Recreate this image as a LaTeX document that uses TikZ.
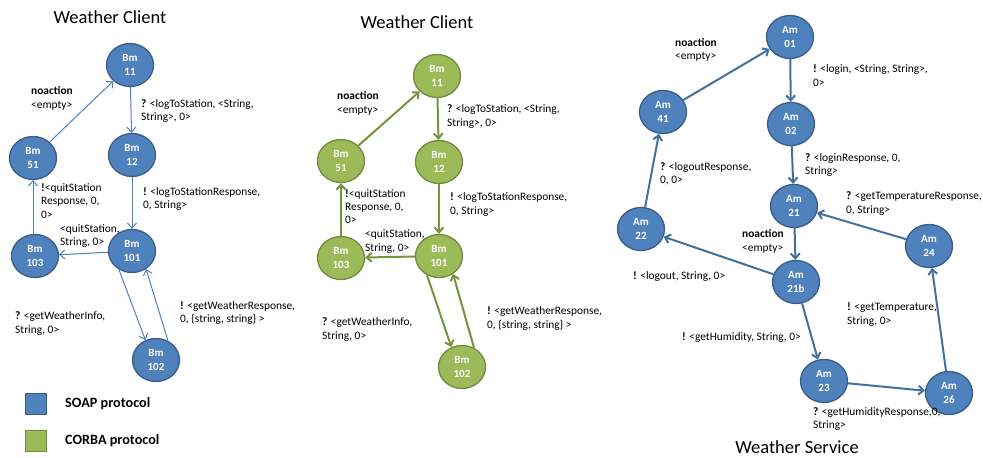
\documentclass[tikz,border=0pt]{standalone}
\usepackage{fontspec}
\setmainfont{Carlito}
\usetikzlibrary{arrows.meta,shapes.geometric}
\definecolor{bfill}{HTML}{4F81BD}
\definecolor{bdraw}{HTML}{385D8A}
\definecolor{gfill}{HTML}{9BBB59}
\definecolor{gdraw}{HTML}{71893F}
\definecolor{gline}{HTML}{77933C}
\definecolor{bline}{HTML}{4F81BD}
\definecolor{bline2}{HTML}{41719C}
\begin{document}
\begin{tikzpicture}[x=1pt,y=-1pt,
 st/.style={ellipse, minimum width=47pt, minimum height=43pt, inner sep=0pt, align=center, text=white, font=\fontsize{11}{13.5}\selectfont\bfseries, line width=1.3pt},
 bst/.style={st, fill=bfill, draw=bdraw},
 gst/.style={st, fill=gfill, draw=gdraw},
 lbl/.style={anchor=west, align=left, inner sep=0pt, font=\fontsize{11.4}{13.2}\selectfont},
 ttl/.style={font=\fontsize{18.5}{20}\selectfont, inner sep=0pt},
 leg/.style={anchor=west, inner sep=0pt, font=\fontsize{14.2}{16}\selectfont\bfseries},
 tip/.style={-{Straight Barb[length=5pt,width=9pt]}},
 ebl/.style={tip, draw=bline, line width=1pt},
 egr/.style={tip, draw=gline, line width=2pt},
 ebr/.style={tip, draw=bline2, line width=2pt},
]
\useasboundingbox[fill=white] (0,0) rectangle (983,458);

% ---------- Left: SOAP Weather Client ----------
\node[ttl] (t1) at (110,17) {Weather Client};
\node[bst] (a11) at (130,65) {Bm\\11};
\node[bst] (a51) at (33,158) {Bm\\51};
\node[bst] (a12) at (132,155) {Bm\\12};
\node[bst] (a103) at (35,256) {Bm\\103};
\node[bst] (a101) at (132,251) {Bm\\101};
\node[bst] (a102) at (156,360) {Bm\\102};

\draw[ebl] (a51) -- (a11);
\draw[ebl] (a11) -- (a12);
\draw[ebl] (a12) -- (a101);
\draw[ebl] (a101) -- (a103);
\draw[ebl] (a103.north -| a51.south) -- (a51.south);
\draw[ebl] (a101.235) -- (a102.118);
\draw[ebl] (a102.58) -- (a101.-52);

\node[lbl] (la1) at (31,98.5) {\textbf{noaction}\\<empty>};
\node[lbl] (la2) at (141,111) {\textbf{?} <logToStation, <String,\\String>, 0>};
\node[lbl] (la3) at (41,201) {\textbf{!}<quitStation\\Response, 0,\\0>};
\node[lbl] (la4) at (143,199) {\textbf{!} <logToStationResponse,\\0, String>};
\node[lbl] (la5) at (60,236) {<quitStation,\\String, 0>};
\node[lbl] (la6) at (15,323.5) {\textbf{?} <getWeatherInfo,\\String, 0>};
\node[lbl] (la7) at (180,313) {\textbf{!} <getWeatherResponse,\\0, \{string, string\} >};

% legend
\node[draw=bdraw, fill=bfill, line width=1.3pt, minimum size=21pt, inner sep=0pt] (k1) at (36,404) {};
\node[leg] (k1t) at (65,404) {SOAP protocol};
\node[draw=gdraw, fill=gfill, line width=1.3pt, minimum size=21pt, inner sep=0pt] (k2) at (36,441) {};
\node[leg] (k2t) at (65,441) {CORBA protocol};

% ---------- Middle: CORBA Weather Client ----------
\node[ttl] (t2) at (417,22) {Weather Client};
\node[gst] (b11) at (437,76) {Bm\\11};
\node[gst] (b51) at (341,161) {Bm\\51};
\node[gst] (b12) at (439,162) {Bm\\12};
\node[gst] (b103) at (341,258) {Bm\\103};
\node[gst] (b101) at (439,256) {Bm\\101};
\node[gst] (b102) at (462,367) {Bm\\102};

\draw[egr] (b51) -- (b11);
\draw[egr] (b11) -- (b12);
\draw[egr] (b12) -- (b101);
\draw[egr] (b101) -- (b103);
\draw[egr] (b103.north) -- (b51.south);
\draw[egr] (b101.238) -- (b102.118);
\draw[egr] (b102.58) -- (b101.-52);

\node[lbl] (lb1) at (337,103.5) {\textbf{noaction}\\<empty>};
\node[lbl] (lb2) at (447,116.5) {\textbf{?} <logToStation, <String,\\String>, 0>};
\node[lbl] (lb3) at (345,206.5) {\textbf{!}<quitStation\\Response, 0,\\0>};
\node[lbl] (lb4) at (450,204.5) {\textbf{!} <logToStationResponse,\\0, String>};
\node[lbl] (lb5) at (365,241.5) {<quitStation,\\String, 0>};
\node[lbl] (lb6) at (322,329.5) {\textbf{?} <getWeatherInfo,\\String, 0>};
\node[lbl] (lb7) at (487,318.5) {\textbf{!} <getWeatherResponse,\\0, \{string, string\} >};

% ---------- Right: Weather Service ----------
\node[ttl] (t3) at (797,447) {Weather Service};
\node[bst] (c01) at (790,37) {Am\\01};
\node[bst] (c41) at (663,112) {Am\\41};
\node[bst] (c02) at (791,124) {Am\\02};
\node[bst] (c21) at (794,206) {Am\\21};
\node[bst] (c22) at (641,229) {Am\\22};
\node[bst] (c24) at (929,246) {Am\\24};
\node[bst] (c21b) at (796,282) {Am\\21b};
\node[bst] (c23) at (824,381) {Am\\23};
\node[bst] (c26) at (949,393) {Am\\26};

\draw[ebr] (c41) -- (c01);
\draw[ebr] (c01) -- (c02);
\draw[ebr] (c02) -- (c21);
\draw[ebr] (c24) -- (c21);
\draw[ebr] (c21) -- (c21b);
\draw[ebr] (c21b) -- (c22);
\draw[ebr] (c22) -- (c41);
\draw[ebr] (c21b) -- (c23);
\draw[ebr] (c23) -- (c26);
\draw[ebr] (c26) -- (c24);

\node[lbl] (lc1) at (675,50) {\textbf{noaction}\\<empty>};
\node[lbl] (lc2) at (813,75.5) {\textbf{!} <login, <String, String>,\\0>};
\node[lbl] (lc3) at (660,173.5) {\textbf{?} <logoutResponse,\\0, 0>};
\node[lbl] (lc4) at (805,165) {\textbf{?} <loginResponse, 0,\\String>};
\node[lbl] (lc5) at (846,203.5) {\textbf{?} <getTemperatureResponse,\\0, String>};
\node[lbl] (lc6) at (742,241.5) {\textbf{noaction}\\<empty>};
\node[lbl] (lc7) at (633,277) {\textbf{!} <logout, String, 0>};
\node[lbl] (lc8) at (847,314.5) {\textbf{!} <getTemperature,\\String, 0>};
\node[lbl] (lc9) at (682,338) {\textbf{!} <getHumidity, String, 0>};
\node[lbl] (lc10) at (813,419) {\textbf{?} <getHumidityResponse,0,\\String>};
\end{tikzpicture}
\end{document}
